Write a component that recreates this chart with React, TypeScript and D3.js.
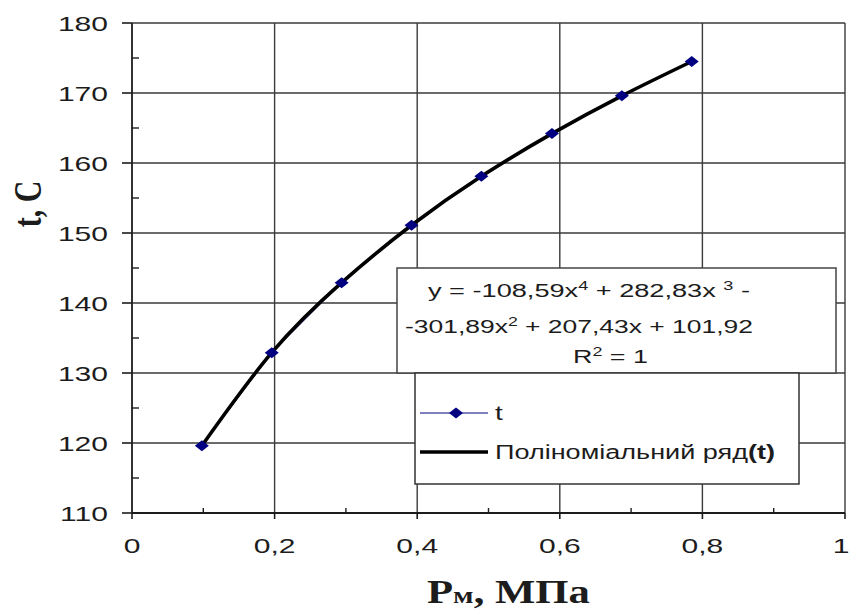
import React from "react";
import * as d3 from "d3";

// pressure, MPa
const pressure = [0.098, 0.196, 0.294, 0.392, 0.49, 0.589, 0.687, 0.785];
// saturation temperature, C
const temperature = [119.6, 132.9, 142.9, 151.1, 158.1, 164.2, 169.6, 174.5];

const xTicks = [0, 0.2, 0.4, 0.6, 0.8, 1];
const xTickLabels = ["0", "0,2", "0,4", "0,6", "0,8", "1"];
const xMinor = [0.1, 0.3, 0.5, 0.7, 0.9];
const yTicks = [110, 120, 130, 140, 150, 160, 170, 180];
const yMinor = [115, 125, 135, 145, 155, 165, 175];

const seriesName = "t";
const trendName = "Поліноміальний ряд";

const width = 851;
const height = 610;
const sans = "'Liberation Sans', Arial, sans-serif";
const serif = "'Liberation Serif', 'Times New Roman', serif";
const stretch = 1.43;

function App() {
  const x = d3.scaleLinear().domain([0, 1]).range([132, 845]);
  const y = d3.scaleLinear().domain([110, 180]).range([513, 23]);

  const points = pressure.map((p, i) => [p, temperature[i]] as [number, number]);

  const seriesLine = d3
    .line<[number, number]>()
    .x((d) => x(d[0]))
    .y((d) => y(d[1]));

  const trendLine = d3
    .line<[number, number]>()
    .x((d) => x(d[0]))
    .y((d) => y(d[1]))
    .curve(d3.curveNatural);

  const diamond = (cx: number, cy: number) =>
    `M${cx - 7},${cy} L${cx},${cy - 5.5} L${cx + 7},${cy} L${cx},${cy + 5.5} Z`;

  const grid = "#3a3a3a";
  const ink = "#1c1c1c";

  return (
    <svg
      width={width}
      height={height}
      style={{ position: "absolute", left: 0, top: 0, background: "#fff" }}
    >
      {/* grid */}
      {yTicks.slice(1).map((t) => (
        <line key={"gy" + t} x1={x(0)} x2={x(1)} y1={y(t)} y2={y(t)} stroke={grid} strokeWidth={1.4} />
      ))}
      {xTicks.slice(1).map((t) => (
        <line key={"gx" + t} x1={x(t)} x2={x(t)} y1={y(180)} y2={y(110)} stroke={grid} strokeWidth={1.4} />
      ))}

      {/* y axis */}
      <line x1={x(0)} x2={x(0)} y1={y(180)} y2={y(110)} stroke={ink} strokeWidth={1.8} />
      {yTicks.map((t) => (
        <line key={"ty" + t} x1={x(0) - 10} x2={x(0)} y1={y(t)} y2={y(t)} stroke={ink} strokeWidth={1.6} />
      ))}
      {yMinor.map((t) => (
        <line key={"my" + t} x1={x(0)} x2={x(0) + 7} y1={y(t)} y2={y(t)} stroke={ink} strokeWidth={1.4} />
      ))}
      {yTicks.map((t) => (
        <text
          key={"ly" + t}
          transform={`translate(108,${y(t) + 8}) scale(${stretch},1)`}
          textAnchor="end"
          fontFamily={sans}
          fontSize={21}
          fill={ink}
        >
          {t}
        </text>
      ))}

      {/* x axis */}
      <line x1={x(0)} x2={x(1)} y1={y(110)} y2={y(110)} stroke={ink} strokeWidth={1.8} />
      {xTicks.map((t) => (
        <line key={"tx" + t} x1={x(t)} x2={x(t)} y1={y(110)} y2={y(110) + 6} stroke={ink} strokeWidth={1.6} />
      ))}
      {xMinor.map((t) => (
        <line key={"mx" + t} x1={x(t)} x2={x(t)} y1={y(110) - 5} y2={y(110)} stroke={ink} strokeWidth={1.4} />
      ))}
      {xTicks.map((t, i) => (
        <text
          key={"lx" + t}
          transform={`translate(${Math.min(x(t), width - 10)},553) scale(${stretch},1)`}
          textAnchor="middle"
          fontFamily={sans}
          fontSize={21}
          fill={ink}
        >
          {xTickLabels[i]}
        </text>
      ))}

      {/* axis titles */}
      <text
        transform={`translate(41,204) scale(1.3,1) rotate(-90)`}
        textAnchor="middle"
        fontFamily={serif}
        fontWeight="bold"
        fontSize={30}
        fill={ink}
      >
        t, C
      </text>
      <text
        x={427}
        y={603}
        textLength={163}
        lengthAdjust="spacingAndGlyphs"
        fontFamily={serif}
        fontWeight="bold"
        fontSize={34}
        fill={ink}
      >
        Р<tspan fontSize={24}>м</tspan>, МПа
      </text>

      {/* data series and polynomial trendline */}
      <path d={seriesLine(points) ?? ""} fill="none" stroke="#000080" strokeWidth={1} />
      <path d={trendLine(points) ?? ""} fill="none" stroke="#000" strokeWidth={3.6} strokeLinejoin="round" />
      {points.map((d, i) => (
        <path key={"pt" + i} d={diamond(x(d[0]), y(d[1]))} fill="#000080" />
      ))}

      {/* equation label */}
      <rect x={397} y={268} width={439} height={105} fill="#fff" stroke="#444" strokeWidth={1.5} />
      <text x={428} y={297} textLength={322} lengthAdjust="spacingAndGlyphs" fontFamily={sans} fontSize={18} fill={ink}>
        y = -108,59x<tspan dy={-7} fontSize={12}>4</tspan>
        <tspan dy={7}> + 282,83x </tspan>
        <tspan dy={-7} fontSize={12}>3</tspan>
        <tspan dy={7}>{"   -"}</tspan>
      </text>
      <text x={405} y={333} textLength={348} lengthAdjust="spacingAndGlyphs" fontFamily={sans} fontSize={18} fill={ink}>
        -301,89x<tspan dy={-7} fontSize={12}>2</tspan>
        <tspan dy={7}> + 207,43x + 101,92</tspan>
      </text>
      <text x={573} y={363} textLength={75} lengthAdjust="spacingAndGlyphs" fontFamily={sans} fontSize={18} fill={ink}>
        R<tspan dy={-7} fontSize={12}>2</tspan>
        <tspan dy={7}> = 1</tspan>
      </text>

      {/* legend */}
      <rect x={415} y={373} width={384} height={111} fill="#fff" stroke="#333" strokeWidth={1.5} />
      <line x1={420} x2={488} y1={413} y2={413} stroke="#000080" strokeWidth={1} />
      <path d={diamond(456, 413)} fill="#000080" />
      <text transform={`translate(495,420) scale(1.4,1)`} fontFamily={sans} fontSize={20} fill={ink}>
        {seriesName}
      </text>
      <line x1={420} x2={488} y1={452} y2={452} stroke="#000" strokeWidth={3.6} />
      <text x={495} y={459} textLength={280} lengthAdjust="spacingAndGlyphs" fontFamily={sans} fontSize={20} fill={ink}>
        {trendName}
        <tspan fontWeight="bold">({seriesName})</tspan>
      </text>
    </svg>
  );
}

export default App;
